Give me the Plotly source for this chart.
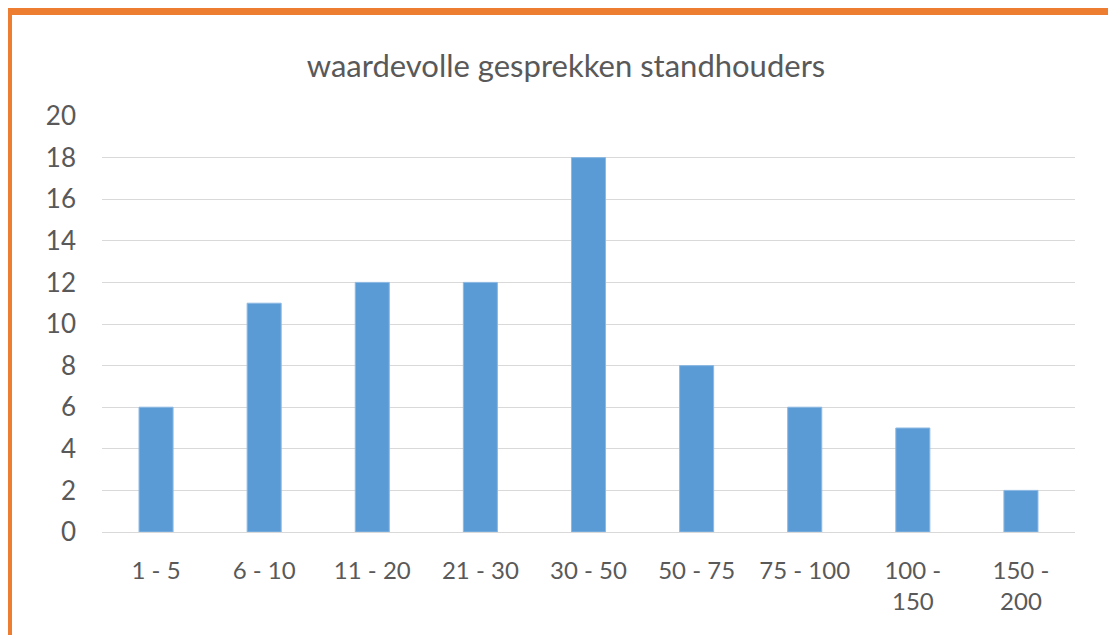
import plotly.graph_objects as go

CATEGORIES = ["1 - 5", "6 - 10", "11 - 20", "21 - 30", "30 - 50",
              "50 - 75", "75 - 100", "100 -<br>150", "150 -<br>200"]
VALUES = [6, 11, 12, 12, 18, 8, 6, 5, 2]
Y_TICKS = [0, 2, 4, 6, 8, 10, 12, 14, 16, 18, 20]

# the page puts the figure 8px in from the top-left corner
OFF = 8
W, H = 1116, 635
L, R, T, B = 102 - OFF, 41 + OFF, 116 - OFF, 103 + OFF
PW, PH = W - L - R, H - T - B


def px_x(x):
    return (x - OFF - L) / PW


def px_y(y):
    return (H - B - (y - OFF)) / PH


TEXT = "#595959"
FONT = "Lato"

fig = go.Figure(
    go.Bar(
        x=CATEGORIES,
        y=VALUES,
        marker=dict(color="#5B9BD5", line=dict(color="#8DB9E3", width=1)),
        hoverinfo="x+y",
    )
)

fig.update_layout(
    width=W,
    height=H,
    margin=dict(l=L, r=R, t=T, b=B),
    paper_bgcolor="white",
    plot_bgcolor="white",
    bargap=0.685,
    showlegend=False,
    font=dict(family=FONT, color=TEXT),
    title=dict(
        text="waardevolle gesprekken standhouders",
        x=(566 - OFF) / W,
        xref="container",
        xanchor="center",
        y=1 - (66 - OFF) / H,
        yanchor="middle",
        font=dict(family=FONT, size=31, color=TEXT),
    ),
    shapes=[
        dict(type="rect", xref="paper", yref="paper",
             x0=px_x(6), x1=px_x(W + 20), y0=px_y(8), y1=px_y(15),
             fillcolor="#ED7D31", line_width=0, layer="above"),
        dict(type="rect", xref="paper", yref="paper",
             x0=px_x(6), x1=px_x(12), y0=px_y(8), y1=px_y(H + 20),
             fillcolor="#ED7D31", line_width=0, layer="above"),
    ],
)

fig.update_xaxes(
    showgrid=False,
    showline=False,
    ticks="",
    ticklabelstandoff=22,
    tickfont=dict(family=FONT, size=24, color=TEXT),
)
fig.update_yaxes(
    range=[0, 20],
    tickvals=Y_TICKS,
    showgrid=True,
    gridcolor="#D9D9D9",
    gridwidth=1,
    zeroline=True,
    zerolinecolor="#D9D9D9",
    zerolinewidth=1,
    ticks="",
    ticklabelstandoff=25,
    tickfont=dict(family=FONT, size=26, color=TEXT),
)

fig.write_html("out.html")
